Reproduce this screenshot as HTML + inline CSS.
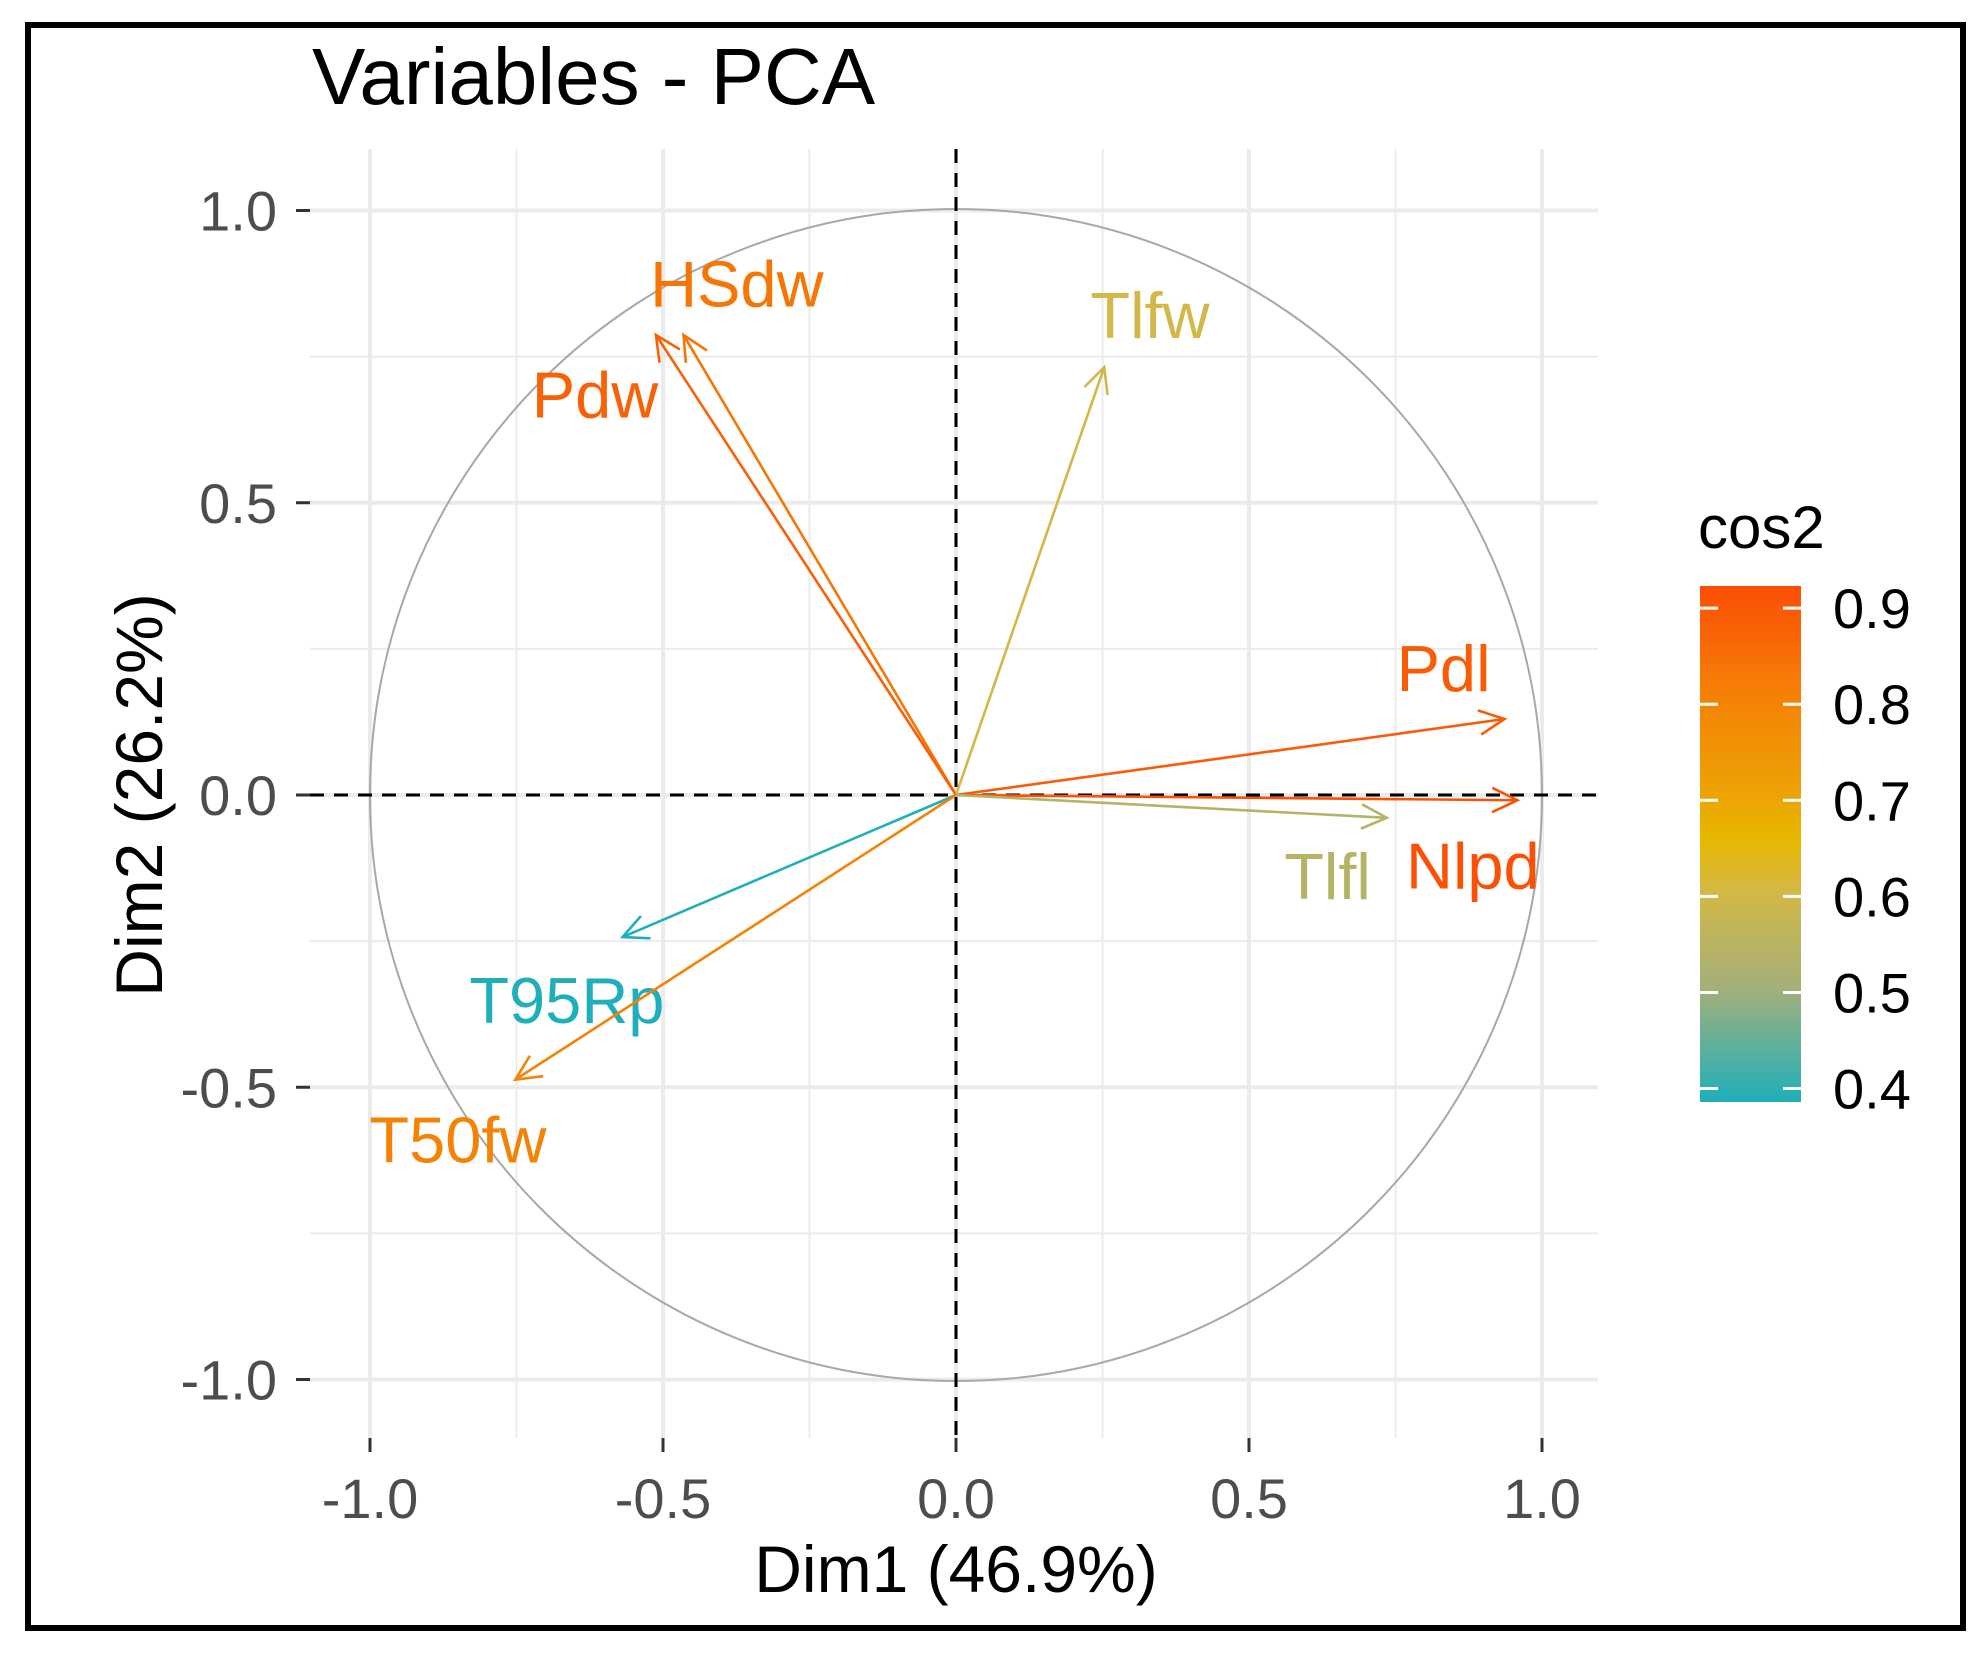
<!DOCTYPE html>
<html><head><meta charset="utf-8"><style>
html,body{margin:0;padding:0;background:#fff}
svg{display:block;font-family:"Liberation Sans",Arial,sans-serif}
</style></head><body>
<svg id="chart" width="1986" height="1653" viewBox="0 0 1986 1653" xmlns="http://www.w3.org/2000/svg">
<defs>
<linearGradient id="cg" x1="0" y1="1" x2="0" y2="0">
<stop offset="0" stop-color="#1FAFBB"/>
<stop offset="0.22" stop-color="#A3B07A"/>
<stop offset="0.41" stop-color="#D4B845"/>
<stop offset="0.51" stop-color="#E7B800"/>
<stop offset="0.6" stop-color="#EDA205"/>
<stop offset="0.8" stop-color="#F57F05"/>
<stop offset="1" stop-color="#FC4E07"/>
</linearGradient>
</defs>
<rect x="28" y="25" width="1935" height="1603" fill="#fff" stroke="#000" stroke-width="6"/>
<text x="312" y="104" font-size="80" fill="#000">Variables - PCA</text>
<g id="grid"></g>
<g id="marks"></g>
<g id="axes"></g>
<text x="956" y="1592" font-size="66" text-anchor="middle" fill="#000">Dim1 (46.9%)</text>
<text transform="translate(162,795) rotate(-90)" font-size="66" text-anchor="middle" fill="#000">Dim2 (26.2%)</text>
<g>
<text x="1698" y="548" font-size="60" fill="#000">cos2</text>
<rect x="1700" y="586" width="101" height="516" fill="url(#cg)"/>
<g id="legendticks"></g>
</g>
</svg>
<script>
const varNames = ["HSdw","Pdw","Tlfw","Pdl","Nlpd","Tlfl","T95Rp","T50fw"];
const dim1 = [-0.465,-0.512,0.253,0.936,0.958,0.735,-0.569,-0.752];
const dim2 = [0.787,0.787,0.732,0.13,-0.009,-0.039,-0.243,-0.487];
const labelDx = [0.091,-0.104,0.078,-0.104,-0.076,-0.101,-0.095,-0.098];
const labelDy = [0.088,-0.102,0.089,0.087,-0.112,-0.1,-0.108,-0.102];
const axisTicks = [-1.0,-0.5,0.0,0.5,1.0];
const axisTickLabels = ["-1.0","-0.5","0.0","0.5","1.0"];
const minorTicks = [-0.75,-0.25,0.25,0.75];
const legendTicks = [0.4,0.5,0.6,0.7,0.8,0.9];
const legendMin = 0.386, legendMax = 0.923;

const NS="http://www.w3.org/2000/svg";
const X0=956, Y0=795, UX=586, UY=584.5;
const px=v=>X0+v*UX, py=v=>Y0-v*UY;
const PL=310, PR=1598, PT=149, PB=1438;
const gStops=[[0,"#1FAFBB"],[0.22,"#A3B07A"],[0.41,"#D4B845"],[0.51,"#E7B800"],[0.6,"#EDA205"],[0.8,"#F57F05"],[1,"#FC4E07"]];
function mk(tag,attrs,parent){const e=document.createElementNS(NS,tag);for(const k in attrs)e.setAttribute(k,attrs[k]);parent.appendChild(e);return e;}
function hex(c){return [parseInt(c.slice(1,3),16),parseInt(c.slice(3,5),16),parseInt(c.slice(5,7),16)];}
function col(v){
  let t=(v-legendMin)/(legendMax-legendMin);t=Math.max(0,Math.min(1,t));
  for(let i=1;i<gStops.length;i++){
    if(t<=gStops[i][0]){
      const a=hex(gStops[i-1][1]),b=hex(gStops[i][1]);
      const f=(t-gStops[i-1][0])/(gStops[i][0]-gStops[i-1][0]);
      return "rgb("+a.map((x,j)=>Math.round(x+(b[j]-x)*f)).join(",")+")";
    }
  }
  return gStops[gStops.length-1][1];
}
const grid=document.getElementById("grid");
minorTicks.forEach(v=>{
  let l=mk("line",{x1:px(v),x2:px(v),y1:PT,y2:PB,stroke:"#EBEBEB","stroke-width":2},grid);
  
  
  l=mk("line",{x1:PL,x2:PR,y1:py(v),y2:py(v),stroke:"#EBEBEB","stroke-width":2},grid);
  
  
});
axisTicks.forEach(v=>{
  let l=mk("line",{x1:px(v),x2:px(v),y1:PT,y2:PB,stroke:"#EBEBEB","stroke-width":4},grid);
  
  
  l=mk("line",{x1:PL,x2:PR,y1:py(v),y2:py(v),stroke:"#EBEBEB","stroke-width":4},grid);
  
  
});
const marks=document.getElementById("marks");
let circ=mk("circle",{cx:X0,cy:Y0,r:UX,fill:"none",stroke:"#A8A8A8","stroke-width":2},marks);


let hl=mk("line",{x1:PL,x2:PR,y1:Y0,y2:Y0,stroke:"#000","stroke-width":3,"stroke-dasharray":"14 10"},marks);


let vl=mk("line",{x1:X0,x2:X0,y1:PT,y2:PB,stroke:"#000","stroke-width":3,"stroke-dasharray":"14 10"},marks);


varNames.forEach((n,i)=>{
  const c=col(dim1[i]*dim1[i]+dim2[i]*dim2[i]);
  const g=mk("g",{},marks);
  
  
  const x2=px(dim1[i]),y2=py(dim2[i]);
  mk("line",{x1:X0,y1:Y0,x2:x2,y2:y2,stroke:c,"stroke-width":2.6},g);
  const ang=Math.atan2(y2-Y0,x2-X0),L=28,h=0.45;
  mk("polyline",{points:(x2-L*Math.cos(ang-h))+","+(y2-L*Math.sin(ang-h))+" "+x2+","+y2+" "+(x2-L*Math.cos(ang+h))+","+(y2-L*Math.sin(ang+h)),fill:"none",stroke:c,"stroke-width":2.6},g);
  const t=mk("text",{x:px(dim1[i]+labelDx[i]),y:py(dim2[i]+labelDy[i])+23,"font-size":65,"text-anchor":"middle",fill:c},marks);
  t.textContent=n;
  
  
});
const axes=document.getElementById("axes");
axisTicks.forEach((v,i)=>{
  let l=mk("line",{x1:PL-14,x2:PL,y1:py(v),y2:py(v),stroke:"#333","stroke-width":3},axes);
  
  
  let t=mk("text",{x:277,y:py(v)+20,"font-size":56,"text-anchor":"end",fill:"#4D4D4D"},axes);
  t.textContent=axisTickLabels[i];
  
  
  l=mk("line",{x1:px(v),x2:px(v),y1:PB,y2:PB+14,stroke:"#333","stroke-width":3},axes);
  
  
  t=mk("text",{x:px(v),y:1518,"font-size":56,"text-anchor":"middle",fill:"#4D4D4D"},axes);
  t.textContent=axisTickLabels[i];
  
  
});
const lt=document.getElementById("legendticks");
legendTicks.forEach(v=>{
  const y=1102-(v-legendMin)/(legendMax-legendMin)*516;
  let l=mk("line",{x1:1700,x2:1718,y1:y,y2:y,stroke:"#fff","stroke-width":3},lt);
  
  
  l=mk("line",{x1:1783,x2:1801,y1:y,y2:y,stroke:"#fff","stroke-width":3},lt);
  
  
  const t=mk("text",{x:1833,y:y+20,"font-size":56,fill:"#000"},lt);
  t.textContent=v.toFixed(1);
  
  
});
</script>
</body></html>
